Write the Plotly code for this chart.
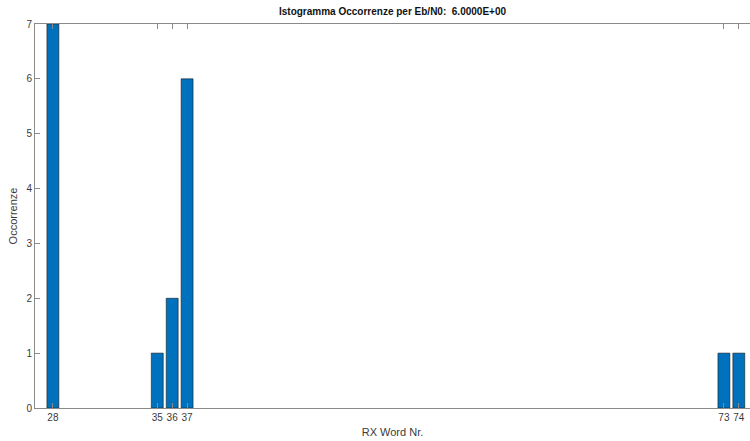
import plotly.graph_objects as go

# RX word numbers and how often each one occurred
words = [28, 35, 36, 37, 73, 74]
counts = [7, 1, 2, 6, 1, 1]
y_ticks = [0, 1, 2, 3, 4, 5, 6, 7]

axis_col = "#8a8a8a"
text_col = "#3a3a3a"
font_family = "Liberation Sans, Arial, Helvetica, sans-serif"

fig = go.Figure(
    go.Bar(
        x=words,
        y=counts,
        width=0.8,
        marker=dict(color="#0072BD", line=dict(color="#1a1a1a", width=0.6)),
    )
)

fig.update_layout(
    width=750,
    height=441,
    margin=dict(l=35, r=0, t=24, b=33),
    paper_bgcolor="white",
    plot_bgcolor="white",
    showlegend=False,
    font=dict(family=font_family, size=10, color=text_col),
    title=dict(
        text="<b>Istogramma Occorrenze per Eb/N0:  6.0000E+00</b>",
        xref="paper",
        x=0.5,
        xanchor="center",
        y=1 - 11 / 441,
        yanchor="middle",
        font=dict(size=10, color="#111111"),
    ),
    xaxis=dict(
        range=[26.8, 74.75],
        tickmode="array",
        tickvals=words,
        ticktext=[str(w) for w in words],
        ticks="inside",
        ticklen=5,
        tickcolor=axis_col,
        showline=True,
        linecolor=axis_col,
        linewidth=1,
        mirror="ticks",
        showgrid=False,
        zeroline=False,
        title=dict(text="RX Word Nr.", font=dict(size=11, color=text_col), standoff=6),
        tickfont=dict(size=10, color=text_col),
    ),
    yaxis=dict(
        range=[0, 7],
        tickmode="array",
        tickvals=y_ticks,
        ticks="inside",
        ticklen=5,
        tickcolor=axis_col,
        showline=True,
        linecolor=axis_col,
        linewidth=1,
        showgrid=False,
        zeroline=False,
        title=dict(text="Occorrenze", font=dict(size=11, color=text_col), standoff=6),
        tickfont=dict(size=10, color=text_col),
    ),
)

fig.write_html("out.html")
